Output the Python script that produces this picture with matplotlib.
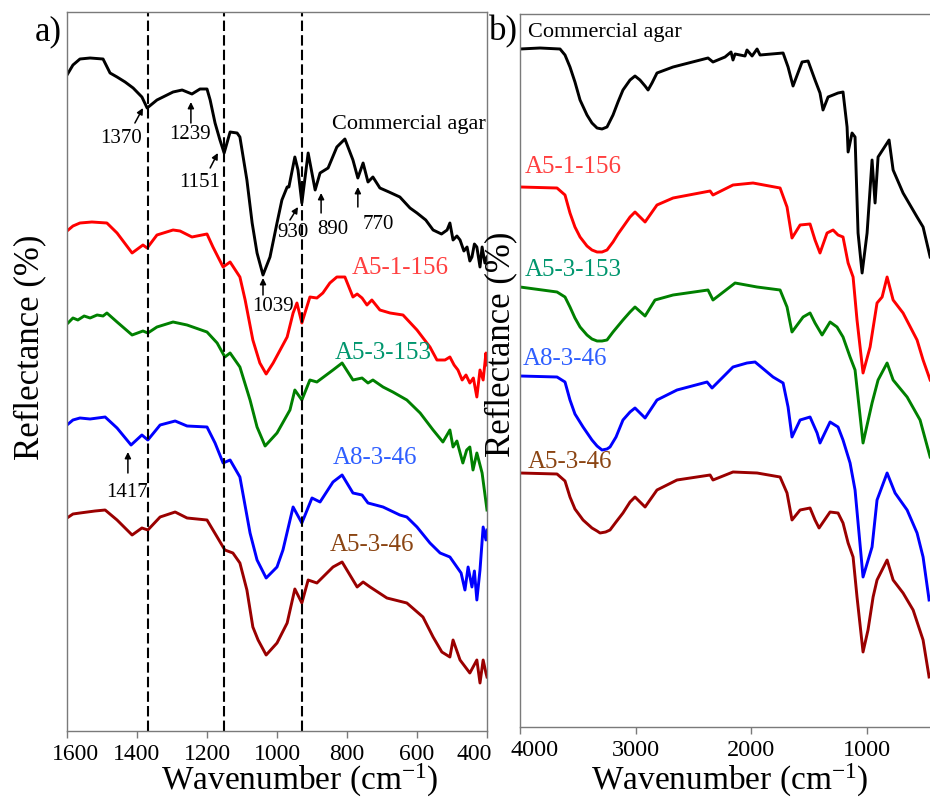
import matplotlib
matplotlib.use("Agg")
import matplotlib.pyplot as plt
from matplotlib.transforms import ScaledTranslation

plt.rcParams['font.family'] = ['Liberation Serif', 'DejaVu Serif']
plt.rcParams['mathtext.fontset'] = 'custom'
plt.rcParams['mathtext.rm'] = 'Liberation Serif'
plt.rcParams['mathtext.it'] = 'Liberation Serif:italic'
plt.rcParams['mathtext.bf'] = 'Liberation Serif:bold'

# ---------------- Panel a) data (fingerprint region) ----------------
a_agar_wn = [1600, 1583, 1563, 1534, 1497, 1477, 1457, 1434, 1411, 1386, 1371, 1343, 1297, 1271,
             1243, 1220, 1200, 1191, 1177, 1163, 1151, 1134, 1114, 1106, 1086, 1071, 1057, 1040,
             1020, 1000, 986, 971, 966, 949, 940, 929, 911, 891, 877, 854, 829, 806, 783, 769,
             754, 740, 726, 706, 680, 649, 620, 600, 575, 554, 530, 514, 506, 497, 486, 477, 466,
             457, 449, 443, 436, 429, 420, 414, 406, 400]
a_agar_r = [656, 666, 672, 673, 672, 658, 654, 649, 643, 634, 623, 631, 639, 641,
            637, 642, 642, 631, 608, 591, 578, 599, 598, 594, 551, 508, 478, 456,
            474, 508, 531, 544, 544, 574, 561, 528, 578, 541, 558, 563, 584, 592, 571, 553,
            568, 549, 554, 543, 539, 534, 523, 518, 511, 501, 497, 501, 508, 491, 495, 491, 480,
            484, 470, 474, 487, 484, 464, 484, 468, 474]

a_156_wn = [1600, 1583, 1563, 1529, 1486, 1457, 1414, 1383, 1371, 1343, 1297, 1277, 1243, 1200,
            1183, 1154, 1134, 1106, 1091, 1069, 1049, 1031, 1011, 971, 954, 943, 929, 906, 886,
            869, 849, 829, 806, 783, 771, 757, 743, 729, 706, 677, 640, 600, 563, 543, 520, 506,
            494, 483, 471, 460, 449, 439, 429, 420, 411, 403, 400]
a_156_r = [500, 505, 508, 509, 508, 498, 478, 486, 483, 496, 501, 500, 494, 497,
           484, 464, 469, 454, 431, 391, 368, 357, 368, 394, 418, 428, 408, 434, 433,
           438, 448, 454, 454, 434, 437, 433, 426, 431, 421, 418, 416, 401, 384, 371, 371, 374,
           366, 361, 351, 356, 348, 353, 334, 361, 351, 378, 366]

a_153_wn = [1600, 1583, 1569, 1551, 1534, 1514, 1497, 1486, 1457, 1414, 1383, 1369, 1343, 1297,
            1257, 1200, 1171, 1149, 1134, 1106, 1077, 1057, 1034, 1000, 963, 949, 929, 906, 886,
            840, 814, 783, 757, 740, 726, 697, 669, 629, 591, 554, 526, 506, 497, 486, 469, 458,
            449, 440, 429, 414, 400]
a_153_r = [407, 413, 411, 415, 413, 416, 415, 418, 409, 396, 400, 398, 404, 409,
           406, 399, 388, 374, 378, 364, 331, 304, 285, 298, 321, 341, 331, 351, 349,
           361, 368, 351, 353, 348, 351, 344, 339, 331, 318, 301, 289, 301, 284, 290, 268, 281,
           284, 261, 278, 258, 221]

a_a8_wn = [1600, 1583, 1563, 1534, 1491, 1457, 1417, 1386, 1369, 1334, 1291, 1257, 1200, 1177,
           1154, 1134, 1106, 1077, 1057, 1031, 1000, 983, 954, 929, 900, 877, 840, 814, 783,
           757, 740, 697, 649, 629, 600, 563, 534, 506, 486, 474, 463, 454, 443, 436, 429, 420,
           411, 403, 400]
a_a8_r = [306, 311, 313, 312, 314, 303, 286, 296, 291, 306, 310, 305, 304, 288,
          268, 271, 254, 198, 171, 153, 164, 181, 224, 208, 233, 229, 249, 256, 238,
          236, 228, 224, 216, 214, 204, 188, 178, 174, 164, 158, 141, 164, 144, 160, 131, 161,
          204, 191, 201]

a_46_wn = [1600, 1583, 1563, 1520, 1491, 1457, 1414, 1386, 1369, 1334, 1291, 1257, 1200, 1171,
           1149, 1126, 1106, 1086, 1069, 1054, 1031, 1000, 971, 949, 929, 911, 886, 840, 814,
           771, 754, 734, 686, 629, 583, 554, 529, 506, 497, 477, 449, 429, 420, 411, 403, 400]
a_46_r = [213, 217, 218, 220, 221, 211, 196, 203, 201, 214, 219, 213, 211, 194,
          181, 178, 168, 141, 104, 91, 76, 88, 108, 142, 128, 151, 148, 164, 169,
          144, 149, 144, 133, 128, 114, 94, 79, 74, 91, 71, 58, 71, 48, 71, 58, 54]

a_ref_lines = [1370, 1151, 930]
a_peaks = ['1370', '1239', '1151', '1039', '930', '890', '770', '1417']
a_xticks = [1600, 1400, 1200, 1000, 800, 600, 400]

# ---------------- Panel b) data (full range) ----------------
b_agar_wn = [4000, 3827, 3654, 3611, 3568, 3525, 3481, 3421, 3378, 3334, 3291, 3248, 3196, 3153,
             3110, 3049, 3006, 2963, 2919, 2893, 2859, 2816, 2677, 2375, 2332, 2228, 2176, 2159,
             2141, 2055, 2038, 1994, 1951, 1925, 1726, 1683, 1640, 1562, 1510, 1450, 1407, 1381,
             1337, 1251, 1208, 1173, 1164, 1130, 1104, 1078, 1043, 1000, 957, 931, 905, 810,
             775, 689, 568, 516, 455]
b_agar_r = [678, 679, 678, 672, 660, 645, 627, 612, 604, 599, 598, 600, 612, 625,
            637, 647, 651, 647, 641, 637, 644, 654, 660, 669, 665, 670, 675, 667,
            673, 671, 677, 671, 678, 672, 674, 660, 641, 665, 666, 647, 634, 617,
            630, 634, 635, 600, 575, 594, 590, 494, 454, 494, 567, 524, 570, 587,
            557, 534, 510, 500, 470]

b_156_wn = [4000, 3680, 3611, 3568, 3525, 3481, 3421, 3378, 3334, 3291, 3248, 3196, 3153, 3110,
            3049, 3006, 2919, 2816, 2677, 2357, 2332, 2159, 1986, 1752, 1692, 1649, 1579, 1493,
            1450, 1407, 1346, 1294, 1251, 1208, 1164, 1121, 1087, 1035, 974, 914, 870, 827, 775,
            689, 568, 516, 455]
b_156_r = [540, 539, 532, 514, 500, 490, 481, 477, 475, 475, 477, 485, 493, 500,
           510, 515, 505, 522, 529, 536, 532, 542, 544, 539, 520, 489, 502, 503,
           487, 474, 494, 497, 492, 490, 464, 450, 407, 354, 380, 424, 430, 450, 427,
           414, 387, 367, 347]

b_153_wn = [4000, 3680, 3611, 3568, 3525, 3481, 3421, 3378, 3334, 3291, 3248, 3196, 3153, 3110,
            3049, 3006, 2919, 2833, 2677, 2375, 2332, 2141, 1951, 1752, 1692, 1649, 1553, 1493,
            1450, 1389, 1320, 1260, 1208, 1147, 1104, 1035, 957, 905, 827, 775, 654, 542, 455]
b_153_r = [440, 435, 430, 420, 409, 400, 392, 388, 386, 386, 387, 395, 401, 407,
           415, 420, 411, 427, 432, 437, 427, 444, 440, 437, 420, 395, 410, 414,
           404, 392, 405, 400, 390, 370, 357, 284, 324, 347, 364, 347, 330, 307, 270]

b_a8_wn = [4000, 3680, 3611, 3568, 3525, 3455, 3378, 3334, 3291, 3248, 3222, 3170, 3110, 3049,
           3006, 2919, 2816, 2643, 2383, 2340, 2159, 2038, 1968, 1813, 1726, 1683, 1649, 1579,
           1493, 1432, 1407, 1320, 1251, 1208, 1147, 1104, 1035, 957, 914, 827, 758, 654, 568,
           516, 464]
b_a8_r = [351, 350, 345, 327, 313, 300, 287, 281, 277, 278, 280, 290, 307, 315,
          319, 309, 327, 337, 345, 339, 360, 364, 365, 350, 344, 320, 290, 307,
          310, 294, 284, 305, 300, 287, 264, 237, 150, 180, 227, 254, 234, 217, 194,
          170, 127]

b_46_wn = [4000, 3680, 3611, 3568, 3525, 3455, 3378, 3334, 3308, 3260, 3222, 3170, 3110, 3049,
           3006, 2919, 2816, 2643, 2357, 2332, 2159, 1951, 1752, 1692, 1649, 1579, 1493, 1450,
           1415, 1320, 1251, 1208, 1164, 1121, 1087, 1035, 992, 948, 914, 827, 775, 689, 602,
           516, 464]
b_46_r = [254, 253, 246, 230, 218, 207, 199, 196, 194, 195, 197, 205, 214, 225,
          230, 220, 237, 247, 252, 247, 255, 254, 250, 234, 207, 217, 219, 207,
          199, 215, 214, 204, 184, 170, 130, 75, 97, 130, 147, 167, 147, 134, 117,
          87, 50]

b_xticks = [4000, 3000, 2000, 1000]

sample_names = ['Commercial agar', 'A5-1-156', 'A5-3-153', 'A8-3-46', 'A5-3-46']
line_colors = ['#000000', '#ff0000', '#008000', '#0000ff', '#9a0000']
label_colors = ['#000000', '#ff4040', '#00966e', '#2f5fff', '#8b4513']

# ---------------- Figure ----------------
fig = plt.figure(figsize=(9.3, 8), dpi=100)
axa = fig.add_axes([67 / 930, 69 / 800, 420 / 930, 719 / 800])
axb = fig.add_axes([520 / 930, 73 / 800, 416.5 / 930, 713 / 800])

LW = 2.1

# Panel a
a_series = [(a_agar_wn, a_agar_r), (a_156_wn, a_156_r), (a_153_wn, a_153_r),
            (a_a8_wn, a_a8_r), (a_46_wn, a_46_r)]
for (wn, r), c in zip(a_series, line_colors):
    axa.plot(wn, r, color=c, lw=LW, solid_joinstyle='round')
for xv in a_ref_lines:
    axa.axvline(xv, color='black', lw=1.5, linestyle=(0, (5, 2)))

axa.set_xlim(1600, 400)
axa.set_ylim(0, 719)
axa.set_xticks(a_xticks)

# sample labels in panel a
a_label_pos = [(843, 606), (786, 463), (834, 378), (840, 273), (849, 186)]
for name, (x, y), c in zip(sample_names, a_label_pos, label_colors):
    axa.text(x, y, name, color=c, fontsize=16 if name == 'Commercial agar' else 18,
             ha='left', va='center')

# peak annotations: (text pos, arrow tail, arrow tip)
a_annot = [
    ((1446, 592), (1406, 608), (1383, 623)),
    ((1249, 596), (1246, 608), (1246, 629)),
    ((1220, 548), (1191, 563), (1169, 578)),
    ((1011, 424), (1040, 436), (1040, 453)),
    ((954, 498), (963, 511), (940, 524)),
    ((840, 501), (874, 518), (874, 538)),
    ((711, 506), (769, 524), (769, 544)),
    ((1429, 238), (1426, 258), (1426, 279)),
]
for lab, (tpos, tail, tip) in zip(a_peaks, a_annot):
    axa.text(tpos[0], tpos[1], lab, fontsize=15, ha='center', va='center')
    axa.annotate('', xy=tip, xytext=tail,
                 arrowprops=dict(arrowstyle='-|>', color='black', lw=1.1,
                                 mutation_scale=9, shrinkA=0, shrinkB=0))

# Panel b
b_series = [(b_agar_wn, b_agar_r), (b_156_wn, b_156_r), (b_153_wn, b_153_r),
            (b_a8_wn, b_a8_r), (b_46_wn, b_46_r)]
for (wn, r), c in zip(b_series, line_colors):
    axb.plot(wn, r, color=c, lw=LW, solid_joinstyle='round')
axb.set_xlim(4000, 400)
axb.set_ylim(0, 713)
axb.set_xticks(b_xticks)

b_label_pos = [(3931, 695), (3957, 560), (3957, 457), (3974, 368), (3931, 265)]
for name, (x, y), c in zip(sample_names, b_label_pos, label_colors):
    axb.text(x, y, name, color=c, fontsize=16 if name == 'Commercial agar' else 18,
             ha='left', va='center')

# Common styling
for ax, fs in ((axa, 17), (axb, 17.5)):
    ax.set_yticks([])
    for sp in ax.spines.values():
        sp.set_color('#7a7a7a')
        sp.set_linewidth(1.0)
    ax.tick_params(axis='x', direction='out', length=5, width=1, color='#7a7a7a',
                   labelsize=fs, pad=4)
    ax.set_xlabel('Wavenumber (cm$^{\\mathregular{-1}}$)', fontsize=24, va='bottom')
    ax.set_ylabel('Reflectance (%)', fontsize=25)

axa.xaxis.set_label_coords(0.555, (731 - 799) / 719)
axb.xaxis.set_label_coords(0.504, (727 - 799) / 713)
axa.yaxis.set_label_coords(-0.050, 0.533)
axb.yaxis.set_label_coords(-0.006, 0.537)

# nudge the end tick labels inward as in the reference
def nudge(label, dx_px):
    label.set_transform(label.get_transform() +
                        ScaledTranslation(dx_px / 100, 0, fig.dpi_scale_trans))

la = axa.get_xticklabels()
nudge(la[0], 8)
nudge(la[-1], -13)
lb = axb.get_xticklabels()
nudge(lb[0], 15)

fig.text(35 / 930, 1 - 32 / 800, 'a)', fontsize=25, ha='left', va='center')
fig.text(489 / 930, 1 - 32 / 800, 'b)', fontsize=25, ha='left', va='center')

fig.savefig('out.png', dpi=100)
